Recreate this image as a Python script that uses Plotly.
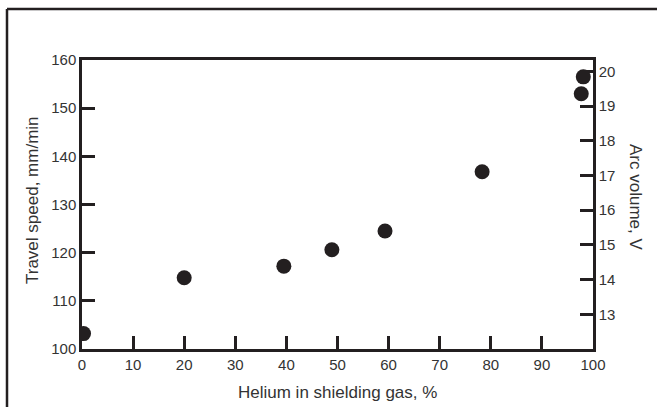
import plotly.graph_objects as go

helium_pct = [0.3, 20, 39.5, 48.9, 59.3, 78.3, 97.7, 98.1]
travel_speed = [103.2, 114.8, 117.2, 120.6, 124.5, 136.8, 153.0, 156.5]

x_ticks = [0, 10, 20, 30, 40, 50, 60, 70, 80, 90, 100]
y_ticks = [100, 110, 120, 130, 140, 150, 160]
y2_ticks = [13, 14, 15, 16, 17, 18, 19, 20]

x_title = "Helium in shielding gas, %"
y_title = "Travel speed, mm/min"
y2_title = "Arc volume, V"

INK = "#231f20"
TXT = "#333333"
FONT = "Liberation Sans, Arial, sans-serif"

L, R, T, B = 82, 64, 60, 58
W, H = 657, 407
pw, ph = W - L - R, H - T - B

def px(xp):
    return (xp - L) / pw

def py(yp):
    return (H - B - yp) / ph

fig = go.Figure()
fig.add_trace(go.Scatter(
    x=helium_pct, y=travel_speed, mode="markers",
    marker=dict(size=15, color=INK), showlegend=False, hoverinfo="skip",
))
fig.add_trace(go.Scatter(x=[None], y=[None], yaxis="y2", showlegend=False))

axis_common = dict(
    showgrid=False, zeroline=False, showline=True, linecolor=INK, linewidth=2.5,
    ticks="inside", ticklen=13, tickwidth=2.5, tickcolor=INK,
    tickfont=dict(family=FONT, size=15, color=TXT),
)

title_font = dict(family=FONT, size=17, color=TXT)

fig.update_layout(
    width=W, height=H,
    margin=dict(l=L, r=R, t=T, b=B),
    paper_bgcolor="white", plot_bgcolor="white",
    xaxis=dict(range=[0, 100], tickvals=x_ticks, mirror=True, **axis_common),
    yaxis=dict(range=[100, 160], tickvals=y_ticks, **axis_common),
    yaxis2=dict(range=[12, 20.33], tickvals=y2_ticks, overlaying="y", side="right",
                **axis_common),
    annotations=[
        dict(text=x_title, x=px(337), y=py(392), xref="paper", yref="paper",
             xanchor="center", yanchor="middle", showarrow=False, font=title_font),
        dict(text=y_title, x=px(32), y=py(200), xref="paper", yref="paper",
             xanchor="center", yanchor="middle",
             textangle=-90, showarrow=False, font=title_font),
        dict(text=y2_title, x=px(636), y=py(197), xref="paper", yref="paper",
             xanchor="center", yanchor="middle",
             textangle=90, showarrow=False, font=title_font),
    ],
    shapes=[
        dict(type="line", xref="paper", yref="paper", x0=px(7), x1=px(7),
             y0=py(9), y1=py(420), line=dict(color=INK, width=2.5)),
        dict(type="line", xref="paper", yref="paper", x0=px(7), x1=px(670),
             y0=py(9), y1=py(9), line=dict(color=INK, width=2.5)),
    ],
)

fig.write_html(
    "out.html",
    config={"displayModeBar": False},
    post_script="document.body.style.margin='0';document.body.style.overflow='hidden';",
)
